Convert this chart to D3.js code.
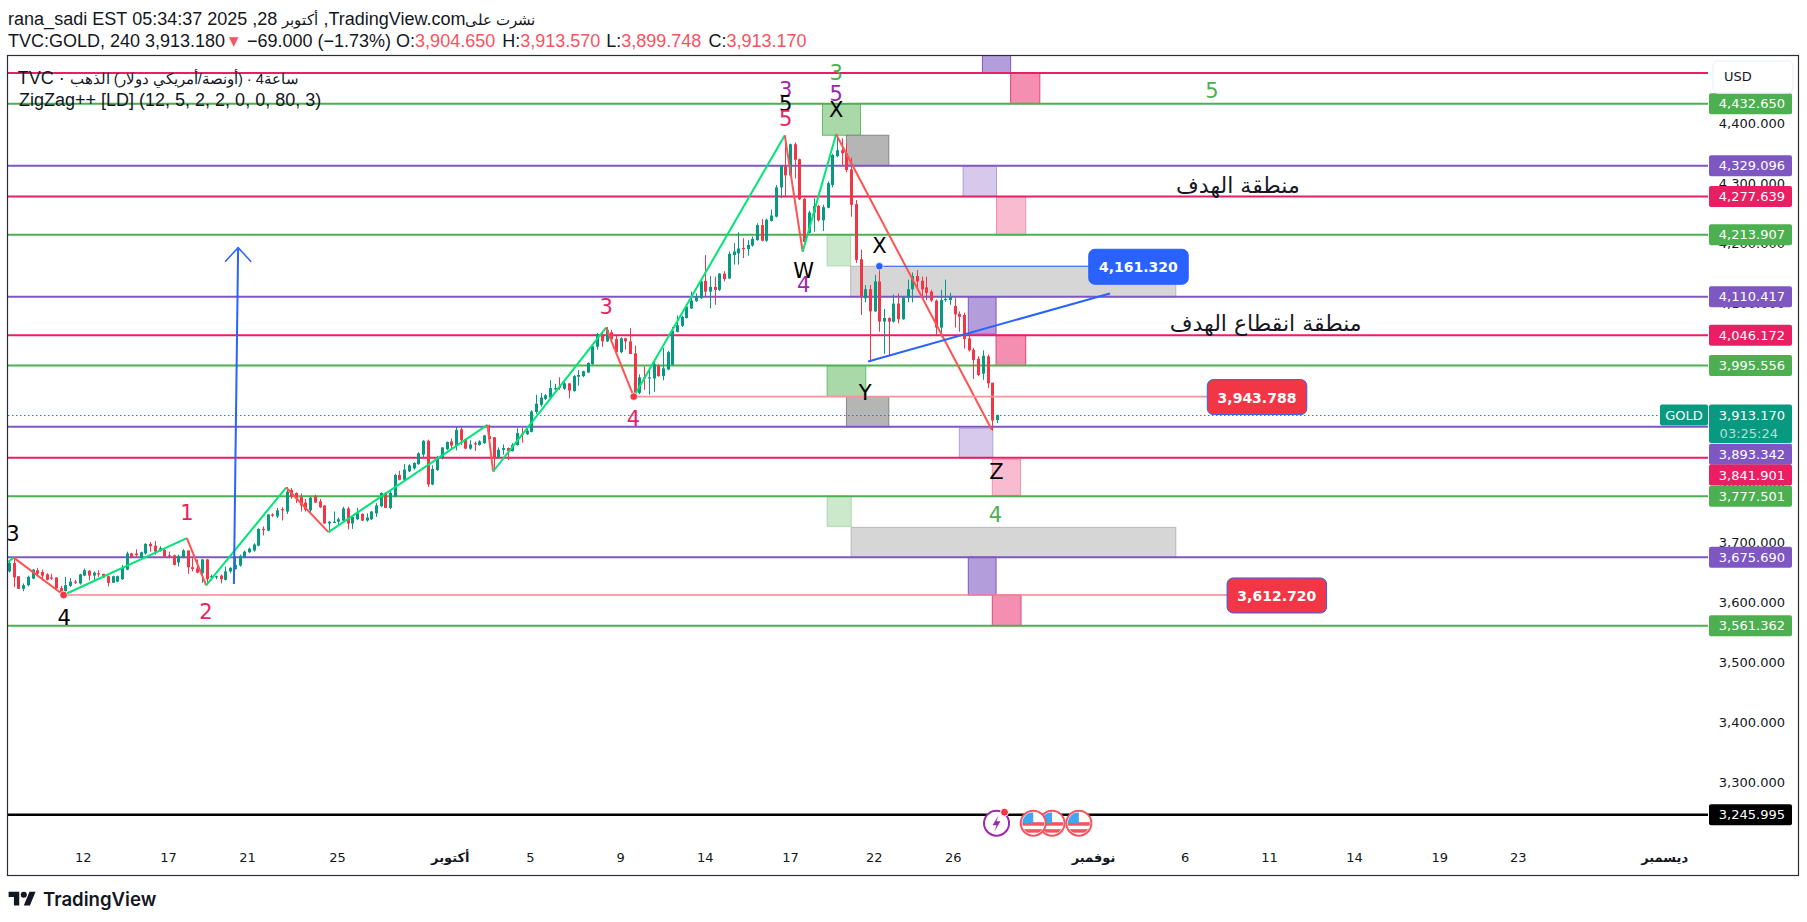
<!DOCTYPE html>
<html>
<head>
<meta charset="utf-8">
<script src="https://cdn.jsdelivr.net/npm/d3@7"></script>
<style>
html, body { margin: 0; padding: 0; background: #fff; }
svg { display: block; }
text { font-family: "Liberation Sans", sans-serif; }
.axis text, .tag { font-family: "DejaVu Sans", sans-serif; font-size: 13px; }
.axis path, .axis line { display: none; }
</style>
</head>
<body>
<svg></svg>
<script>
// candles, left to right, USD
var opens = [3652,3666,3644,3623,3629,3640,3654,3651,3647,3642,3642,3624,3619,3628,3635,3632,3645,3653,3645,3649,3648,3644,3633,3635,3639,3655,3682,3682,3676,3682,3698,3695,3687,3688,3679,3679,3667,3676,3687,3659,3657,3649,3672,3642,3642,3645,3638,3652,3656,3662,3676,3684,3687,3695,3723,3720,3747,3744,3756,3752,3788,3783,3776,3767,3754,3777,3769,3762,3732,3734,3735,3737,3757,3732,3739,3748,3737,3739,3749,3761,3783,3758,3777,3813,3805,3819,3824,3831,3847,3870,3797,3821,3841,3856,3869,3862,3889,3873,3857,3866,3863,3866,3878,3876,3842,3855,3858,3853,3863,3882,3881,3885,3918,3930,3940,3942,3957,3960,3957,3966,3953,3977,3978,3984,3998,4027,4048,4036,4051,4040,4018,4041,4036,4016,3950,3976,3975,3974,3996,3978,3989,3997,4052,4062,4075,4091,4103,4108,4137,4119,4127,4122,4149,4141,4180,4183,4192,4190,4196,4205,4230,4204,4237,4244,4293,4328,4313,4365,4340,4274,4217,4251,4262,4238,4259,4297,4345,4355,4350,4323,4265,4173,4108,4123,4086,4136,4069,4075,4069,4099,4073,4109,4123,4145,4137,4126,4119,4104,4059,4106,4105,4095,4082,4080,4041,4022,4007,3982,4011,3967,3904.65];
var highs = [3669,3674,3644,3632,3645,3656,3658,3655,3649,3648,3642,3628,3643,3641,3638,3648,3657,3654,3652,3654,3648,3645,3645,3645,3663,3685,3683,3689,3685,3699,3701,3703,3694,3691,3685,3680,3680,3689,3687,3674,3672,3673,3673,3647,3645,3647,3660,3659,3677,3680,3687,3692,3699,3724,3727,3748,3749,3758,3759,3793,3791,3784,3782,3773,3777,3780,3773,3763,3736,3752,3742,3760,3760,3744,3758,3749,3749,3753,3766,3784,3784,3788,3815,3820,3831,3831,3834,3851,3871,3872,3829,3845,3859,3869,3874,3893,3893,3874,3871,3869,3871,3880,3897,3876,3859,3864,3859,3866,3891,3892,3894,3921,3947,3950,3948,3971,3965,3976,3972,3966,3980,3988,3987,4001,4030,4050,4050,4060,4055,4045,4043,4042,4058,4029,3981,3994,3991,4006,3998,4025,4020,4060,4079,4079,4095,4119,4116,4139,4180,4145,4144,4150,4153,4186,4200,4218,4208,4205,4211,4233,4240,4241,4256,4297,4330,4378,4366,4368,4341,4275,4254,4275,4264,4264,4303,4349,4380,4375,4366,4343,4272,4189,4130,4130,4147,4162,4090,4076,4114,4116,4111,4139,4151,4155,4144,4144,4122,4106,4122,4139,4117,4108,4086,4084,4050,4025,4011,4021,4014,3967,3913.57];
var lows = [3650,3626,3623,3619,3627,3639,3643,3637,3637,3638,3622,3613,3616,3626,3631,3630,3644,3637,3637,3643,3641,3627,3633,3634,3638,3654,3674,3676,3674,3680,3685,3680,3685,3675,3674,3662,3660,3674,3648,3652,3649,3633,3630,3637,3639,3632,3637,3649,3655,3660,3674,3683,3685,3694,3712,3719,3743,3741,3737,3748,3773,3766,3752,3752,3749,3766,3758,3732,3717,3733,3729,3735,3722,3723,3738,3736,3735,3738,3743,3759,3758,3756,3776,3804,3804,3818,3822,3830,3843,3793,3796,3820,3839,3854,3855,3854,3863,3856,3855,3853,3862,3865,3873,3819,3841,3847,3838,3852,3862,3867,3880,3884,3915,3927,3938,3941,3955,3955,3955,3941,3952,3962,3976,3983,3997,4022,4027,4035,4037,4016,4016,4022,4015,3944,3948,3955,3947,3952,3977,3971,3988,3996,4051,4060,4074,4090,4102,4107,4111,4091,4097,4120,4136,4140,4164,4164,4175,4179,4194,4204,4203,4202,4236,4243,4275,4278,4311,4308,4272,4201,4216,4219,4236,4220,4258,4293,4343,4330,4318,4244,4167,4080,4101,4002,4085,4052,4015,4011,4067,4066,4072,4101,4101,4123,4108,4105,4102,4047,4043,4102,4097,4059,4052,4024,4019,3973,3978,3972,3958,3887,3899.75];
var closes = [3666,3642,3623,3629,3643,3655,3648,3645,3638,3640,3624,3616,3629,3635,3634,3647,3654,3645,3650,3647,3642,3633,3644,3644,3658,3682,3676,3679,3684,3698,3694,3685,3691,3677,3678,3663,3678,3687,3659,3656,3650,3672,3639,3644,3644,3639,3652,3658,3663,3678,3685,3690,3697,3723,3722,3747,3745,3754,3754,3785,3777,3774,3762,3755,3775,3767,3759,3732,3735,3735,3739,3757,3732,3743,3749,3737,3742,3752,3762,3783,3758,3783,3813,3805,3822,3829,3833,3849,3870,3797,3823,3843,3859,3868,3862,3888,3871,3857,3864,3864,3869,3879,3873,3842,3855,3858,3853,3863,3883,3880,3887,3919,3932,3942,3946,3958,3958,3958,3966,3954,3978,3980,3986,4000,4028,4048,4036,4055,4039,4018,4041,4036,4015,3947,3976,3975,3976,3998,3978,3991,4018,4054,4063,4077,4094,4104,4111,4136,4119,4127,4122,4149,4140,4182,4186,4191,4191,4197,4207,4230,4204,4239,4246,4293,4329,4313,4365,4339,4273,4202,4251,4262,4238,4260,4300,4347,4355,4350,4322,4264,4172,4111,4123,4086,4136,4069,4075,4069,4099,4073,4109,4123,4145,4136,4123,4117,4104,4059,4105,4107,4111,4081,4077,4040,4021,4005,3980,4012,3966,3904,3913.17];

// zigzag pivots
var zigIdx = [-0.2,1,11.6,37.8,41.9,58.9,67.9,101.7,102.9,126.9,132.8,164.9,168.7,175.8,208.9];
var zigPrices = [3668,3675,3612.7,3707.7,3628.7,3792,3717.7,3896.7,3818.8,4059,3943.8,4379.9,4185.8,4381.6,3888.4];

// horizontal levels
var levelPrices = [4483.9,4432.65,4329.096,4277.639,4213.907,4110.417,4046.172,3995.556,3893.342,3841.901,3777.501,3675.69,3561.362,3245.995];
var levelKinds = ["pink","green","purple","pink","green","purple","pink","green","purple","pink","green","purple","green","black"];
var levelTagPrices = [null,4432.65,4329.096,4277.639,4213.907,4110.417,4046.172,3995.556,3847.5,3812.8,3777.501,3675.69,3561.362,3245.995];

// boxes drawn on the chart
var zoneStarts = [206.9,212.9,172.9,178,202.8,209.9,173.9,178.9,203.9,209.8,173.9,178,202,209,173.9,179,203.9,209];
var zoneEnds = [212.9,219.1,181,187,209.9,216.1,178.9,248,209.8,216.1,182.1,187,209.1,215,179,248,209.8,215.1];
var zoneTops = [4530,4483.9,4432.65,4380,4329.1,4277.6,4213.9,4161.3,4110.4,4046.2,3995.6,3944,3891,3839,3777.5,3725.6,3675.7,3612.7];
var zoneBottoms = [4483.9,4432.65,4380,4329.1,4277.6,4213.9,4162,4110.4,4048,3995.6,3944,3893.3,3841,3779,3727.4,3675.7,3612.7,3561.4];
var zoneKinds = ["purpleDark","pinkDark","greenDark","grayDark","purpleLight","pinkLight","greenLight","grayLight","purpleDark","pinkDark","greenDark","grayDark","purpleLight","pinkLight","greenLight","grayLight","purpleDark","pinkDark"];

// wave labels
var waveTexts = ["3","4","1","2","3","4","3","5","5","W","4","3","5","X","X","Y","Z","4","5"];
var waveIdx = [0.85,11.75,37.8,41.85,126.95,132.75,165.1,165.1,165.1,168.9,168.9,175.8,175.8,175.8,185,182,209.9,209.65,255.7];
var wavePrices = [3715.8,3575.3,3750,3584.8,4094.7,3906.7,4456.6,4433.3,4408.3,4154.1,4130.2,4485,4450,4423.3,4196.9,3950.1,3818.3,3746.6,4455.5];
var waveKinds = ["black","black","pink","pink","pink","pink","violet","black","pink","black","violet","green","violet","black","black","black","black","green","green"];

// price callouts
var calloutPrices = [4161.32,3943.788,3612.72];
var calloutFrom = [185,132.8,11.6];
var calloutTo = [229.5,254.7,258.9];

// axes
var priceTicks = [4400,4300,4200,4100,3800,3700,3600,3500,3400,3300];
var timeIdx = [15.7,33.8,50.6,69.7,93.7,110.7,129.9,147.9,166,183.8,200.6,230.4,249.9,267.8,285.9,304,320.7,351.8];
var timeLabels = ["12","17","21","25","أكتوبر","5","9","14","17","22","26","نوفمبر","6","11","14","19","23","ديسمبر"];

var noteTexts = ["منطقة الهدف","منطقة انقطاع الهدف"];
var noteIdx = [261.2,267.1];
var notePrices = [4297,4066.8];

var flagIdx = [221.7,217.7,227.4];
var boltIdx = 209.9;

var lastPrice = 3913.17;

var width = 1807, height = 922;
var paneLeft = 8, paneRight = 1708, frameRight = 1798.5, frameTop = 55.5, frameBottom = 875.5;
var tagWidth = 83, tagHeight = 21;

var colors = { green: "#4caf50", purple: "#7e57c2", pink: "#e91e63", black: "#000000", violet: "#9c27b0" };
var zoneStyles = {
  purpleDark: ["#b39ddb", "#7e57c2"], purpleLight: ["#d6c9ec", "#b39ddb"],
  pinkDark: ["#f48fb1", "#e0457c"], pinkLight: ["#f8bbd0", "#f48fb1"],
  greenDark: ["#a9d8a9", "#66bb6a"], greenLight: ["#cde9cd", "#a9d8a9"],
  grayDark: ["#b5b5b5", "#868686"], grayLight: ["#d6d6d6", "#b8b8b8"]
};
var upColor = "#089981", downColor = "#f23645", blue = "#2962ff", arabicHead = 15, arabicLegend = 14.7;

var x = d3.scaleLinear().domain([0, 210]).range([9, 997]);
var y = d3.scaleLinear().domain([3245.995, 4432.65]).range([814.7, 103.7]);
var fmt = d3.format(",.3f");

var svg = d3.select("svg").attr("width", width).attr("height", height);

svg.append("clipPath").attr("id", "pane").append("rect")
  .attr("x", 8).attr("y", frameTop).attr("width", frameRight - 8).attr("height", frameBottom - frameTop);

var pane = svg.append("g").attr("clip-path", "url(#pane)");

// header
svg.append("text").attr("x", 535).attr("y", 25).attr("direction", "rtl")
  .attr("font-size", arabicHead).attr("fill", "#131722").text("نشرت على");
var head1 = svg.append("text").attr("x", 465.5).attr("y", 25).attr("direction", "rtl")
  .attr("font-size", 18).attr("fill", "#131722");
head1.append("tspan").text("TradingView.com, ");
head1.append("tspan").attr("font-size", arabicHead).text("أكتوبر");
head1.append("tspan").text(" 28, 2025 05:34:37 EST\u200f rana_sadi");

var head2 = svg.append("text").attr("x", 8).attr("y", 46.5).attr("font-size", 18).attr("fill", "#131722");
head2.append("tspan").text("TVC:GOLD, 240 3,913.180");
head2.append("tspan").attr("x", 229).attr("fill", "#f7525f").attr("font-size", 19).text("▾");
head2.append("tspan").attr("x", 247).text("−69.000 (−1.73%) O:");
head2.append("tspan").attr("fill", "#f7525f").text("3,904.650");
head2.append("tspan").attr("dx", 2).text(" H:");
head2.append("tspan").attr("fill", "#f7525f").text("3,913.570");
head2.append("tspan").attr("dx", 1).text(" L:");
head2.append("tspan").attr("fill", "#f7525f").text("3,899.748");
head2.append("tspan").attr("dx", 2).text(" C:");
head2.append("tspan").attr("fill", "#f7525f").text("3,913.170");

// boxes
pane.selectAll("rect.zone").data(zoneStarts).enter().append("rect")
  .attr("class", "zone")
  .attr("x", function(d) { return x(d); })
  .attr("y", function(d, i) { return y(zoneTops[i]); })
  .attr("width", function(d, i) { return x(zoneEnds[i]) - x(d); })
  .attr("height", function(d, i) { return y(zoneBottoms[i]) - y(zoneTops[i]); })
  .attr("fill", function(d, i) { return zoneStyles[zoneKinds[i]][0]; })
  .attr("stroke", function(d, i) { return zoneStyles[zoneKinds[i]][1]; })
  .attr("stroke-width", 1);

// levels
pane.selectAll("line.level").data(levelPrices).enter().append("line")
  .attr("class", "level")
  .attr("x1", paneLeft).attr("x2", paneRight)
  .attr("y1", function(d) { return y(d); })
  .attr("y2", function(d) { return y(d); })
  .attr("stroke", function(d, i) { return colors[levelKinds[i]]; })
  .attr("stroke-width", function(d, i) { return levelKinds[i] == "black" ? 2.5 : 2; });

// last price dotted line
pane.append("line")
  .attr("x1", paneLeft).attr("x2", paneRight)
  .attr("y1", Math.round(y(lastPrice)) + 0.5).attr("y2", Math.round(y(lastPrice)) + 0.5)
  .attr("stroke", upColor).attr("stroke-dasharray", "1.5 2.5");

// candles
var bars = pane.selectAll("g.bar").data(opens).enter().append("g").attr("class", "bar");
bars.append("line")
  .attr("x1", function(d, i) { return Math.round(x(i)) + 0.5; })
  .attr("x2", function(d, i) { return Math.round(x(i)) + 0.5; })
  .attr("y1", function(d, i) { return y(highs[i]); })
  .attr("y2", function(d, i) { return y(lows[i]); })
  .attr("stroke", function(d, i) { return closes[i] >= d ? upColor : downColor; });
bars.append("rect")
  .attr("x", function(d, i) { return Math.round(x(i)) - 1; })
  .attr("width", 3)
  .attr("y", function(d, i) { return y(Math.max(d, closes[i])); })
  .attr("height", function(d, i) { return Math.max(1.2, Math.abs(y(d) - y(closes[i]))); })
  .attr("fill", function(d, i) { return closes[i] >= d ? upColor : downColor; });

// zigzag
pane.selectAll("line.zig").data(zigIdx.slice(1)).enter().append("line")
  .attr("class", "zig")
  .attr("x1", function(d, i) { return x(zigIdx[i]); })
  .attr("y1", function(d, i) { return y(zigPrices[i]); })
  .attr("x2", function(d) { return x(d); })
  .attr("y2", function(d, i) { return y(zigPrices[i + 1]); })
  .attr("stroke", function(d, i) { return zigPrices[i + 1] > zigPrices[i] ? "#00e676" : "#ff5252"; })
  .attr("stroke-width", 2);

// blue arrow and trend line
var arrowFrom = [47.8, 3631], arrowTo = [48.7, 4192.4];
var ax = x(arrowTo[0]), ay = y(arrowTo[1]);
pane.append("path")
  .attr("d", d3.line()([[x(arrowFrom[0]), y(arrowFrom[1])], [ax, ay]]))
  .attr("stroke", blue).attr("stroke-width", 2).attr("fill", "none");
pane.append("path")
  .attr("d", d3.line()([[ax - 13, ay + 14], [ax, ay], [ax + 13, ay + 14]]))
  .attr("stroke", blue).attr("stroke-width", 1.5).attr("fill", "none");
var trendFrom = [182.6, 4002.3], trendTo = [234, 4116];
pane.append("line")
  .attr("x1", x(trendFrom[0])).attr("y1", y(trendFrom[1]))
  .attr("x2", x(trendTo[0])).attr("y2", y(trendTo[1]))
  .attr("stroke", blue).attr("stroke-width", 2);

// callouts
var calloutColor = [blue, "#f4949c", "#f4868f"];
pane.selectAll("line.call").data(calloutPrices).enter().append("line")
  .attr("class", "call")
  .attr("x1", function(d, i) { return x(calloutFrom[i]); })
  .attr("x2", function(d, i) { return x(calloutTo[i]); })
  .attr("y1", function(d) { return y(d); })
  .attr("y2", function(d) { return y(d); })
  .attr("stroke", function(d, i) { return calloutColor[i]; })
  .attr("stroke-width", function(d, i) { return i == 0 ? 1.2 : 1.6; });
pane.selectAll("circle.call").data(calloutPrices).enter().append("circle")
  .attr("class", "call")
  .attr("cx", function(d, i) { return x(calloutFrom[i]); })
  .attr("cy", function(d) { return y(d); })
  .attr("r", 3.8)
  .attr("fill", function(d, i) { return i == 0 ? blue : downColor; })
  .attr("stroke", "#fff").attr("stroke-opacity", 0.7);
pane.selectAll("rect.call").data(calloutPrices).enter().append("rect")
  .attr("class", "call")
  .attr("x", function(d, i) { return x(calloutTo[i]); })
  .attr("y", function(d) { return y(d) - 17; })
  .attr("width", 99.5).attr("height", 35).attr("rx", 6)
  .attr("fill", function(d, i) { return i == 0 ? blue : downColor; })
  .attr("stroke", blue);
pane.selectAll("text.call").data(calloutPrices).enter().append("text")
  .attr("class", "call")
  .attr("x", function(d, i) { return x(calloutTo[i]) + 49.7; })
  .attr("y", function(d) { return y(d) + 1; })
  .attr("dy", "0.35em")
  .attr("text-anchor", "middle")
  .attr("fill", "#fff").attr("font-weight", "bold").attr("font-size", 14)
  .style("font-family", "DejaVu Sans")
  .text(function(d) { return fmt(d); });

// wave labels
pane.selectAll("text.wave").data(waveTexts).enter().append("text")
  .attr("class", "wave")
  .attr("x", function(d, i) { return x(waveIdx[i]); })
  .attr("y", function(d, i) { return y(wavePrices[i]); })
  .attr("dy", "0.36em")
  .attr("text-anchor", "middle")
  .attr("font-size", 21)
  .style("font-family", "DejaVu Sans")
  .attr("fill", function(d, i) { return colors[waveKinds[i]]; })
  .text(function(d) { return d; });

// notes
pane.selectAll("text.note").data(noteTexts).enter().append("text")
  .attr("class", "note")
  .attr("x", function(d, i) { return x(noteIdx[i]); })
  .attr("y", function(d, i) { return y(notePrices[i]); })
  .attr("dy", "0.35em")
  .attr("text-anchor", "middle")
  .attr("font-size", 22)
  .style("font-family", "DejaVu Sans")
  .attr("fill", "#131722")
  .text(function(d) { return d; });

// legend lines
var legend1 = svg.append("text").attr("x", 299).attr("y", 84).attr("direction", "rtl")
  .attr("font-size", 18).attr("fill", "#131722");
legend1.append("tspan").attr("font-size", arabicLegend).text("ساعة4 · (أونصة/أمريكي دولار) الذهب");
legend1.append("tspan").text(" · TVC");
svg.append("text").attr("x", 19).attr("y", 106)
  .attr("font-size", 18).attr("fill", "#131722")
  .text("ZigZag++ [LD] (12, 5, 2, 2, 0, 0, 80, 3)");

// price axis
var priceAxis = svg.append("g").attr("class", "axis")
  .attr("transform", "translate(1785,0)")
  .call(d3.axisRight(y).tickValues(priceTicks).tickSize(0).tickPadding(0).tickFormat(fmt));
priceAxis.selectAll("text").attr("text-anchor", "end").attr("fill", "#131722");

// time axis
var timeAxis = svg.append("g").attr("class", "axis")
  .attr("transform", "translate(0,853)")
  .call(d3.axisBottom(x).tickValues(timeIdx).tickSize(0).tickPadding(0).tickFormat(function(d, i) { return timeLabels[i]; }));
timeAxis.selectAll("text").attr("fill", "#131722")
  .attr("font-weight", function(d, i) { return isNaN(+timeLabels[i]) ? "bold" : "normal"; });

// price tags
var tagged = levelPrices.map(function(d, i) { return i; }).filter(function(i) { return levelTagPrices[i] != null; });
svg.selectAll("rect.tag").data(tagged).enter().append("rect")
  .attr("class", "tag")
  .attr("x", 1709).attr("width", tagWidth).attr("height", tagHeight).attr("rx", 2)
  .attr("y", function(d) { return y(levelTagPrices[d]) - tagHeight / 2; })
  .attr("fill", function(d) { return colors[levelKinds[d]]; });
svg.selectAll("text.tag").data(tagged).enter().append("text")
  .attr("class", "tag")
  .attr("x", 1785)
  .attr("y", function(d) { return y(levelTagPrices[d]); })
  .attr("dy", "0.36em")
  .attr("text-anchor", "end").attr("fill", "#fff")
  .text(function(d) { return fmt(levelPrices[d]); });

// last price tag
var lastY = y(lastPrice);
svg.append("rect").attr("x", 1709).attr("y", lastY - 10.5).attr("width", tagWidth).attr("height", 38.5).attr("rx", 2).attr("fill", upColor);
svg.append("text").attr("class", "tag").attr("x", 1785).attr("y", lastY).attr("dy", "0.36em")
  .attr("text-anchor", "end").attr("fill", "#fff").text(fmt(lastPrice));
svg.append("text").attr("class", "tag").attr("x", 1778).attr("y", lastY + 18).attr("dy", "0.36em")
  .attr("text-anchor", "end").attr("fill", "#b2e0d6").text("03:25:24");
svg.append("rect").attr("x", 1660).attr("y", lastY - 10.5).attr("width", 48).attr("height", 21).attr("rx", 2).attr("fill", upColor);
svg.append("text").attr("class", "tag").attr("x", 1684).attr("y", lastY).attr("dy", "0.36em")
  .attr("text-anchor", "middle").attr("fill", "#fff").text("GOLD");

// currency button
svg.append("rect").attr("x", 1713).attr("y", 61).attr("width", 80).attr("height", 32).attr("rx", 5)
  .attr("fill", "#fff").attr("stroke", "#f0f3fa").attr("stroke-width", 1.5);
svg.append("text").attr("x", 1724).attr("y", 76.5).attr("dy", "0.36em").attr("font-size", 13)
  .style("font-family", "DejaVu Sans").attr("fill", "#131722").text("USD");

// events on the time line
var eventY = y(3245.995) + 8.5;
var defs = svg.append("defs");
defs.append("clipPath").attr("id", "flag").append("circle").attr("r", 11);
var stripeRows = [-1, 6, 12];
var flags = svg.selectAll("g.flag").data(flagIdx).enter().append("g")
  .attr("class", "flag")
  .attr("transform", function(d) { return "translate(" + x(d) + "," + eventY + ")"; });
flags.append("circle").attr("r", 12.5).attr("fill", "#fff").attr("stroke", "#f7525f").attr("stroke-width", 2);
var flagBody = flags.append("g").attr("clip-path", "url(#flag)");
flagBody.append("rect").attr("x", -11).attr("y", -11).attr("width", 22).attr("height", 22).attr("fill", "#fff");
stripeRows.forEach(function(s) {
  flagBody.append("rect").attr("x", -11).attr("y", s).attr("width", 22).attr("height", 3.5).attr("fill", "#f7525f");
});
flagBody.append("rect").attr("x", -11).attr("y", -11).attr("width", 11).attr("height", 11).attr("fill", "#42a5f5");
var bolt = svg.append("g").attr("transform", "translate(" + x(boltIdx) + "," + eventY + ")");
bolt.append("circle").attr("r", 12.5).attr("fill", "#fff").attr("stroke", "#9c27b0").attr("stroke-width", 2);
bolt.append("path").attr("d", "M2 -8 L-4 2 L0 2 L-2 8 L4 -2 L0 -2 Z").attr("fill", "#9c27b0");
bolt.append("circle").attr("cx", 8).attr("cy", -11).attr("r", 4).attr("fill", "#f23645").attr("stroke", "#fff");

// frame
svg.append("rect")
  .attr("x", 7.5).attr("y", frameTop)
  .attr("width", frameRight - 7.5).attr("height", frameBottom - frameTop)
  .attr("fill", "none").attr("stroke", "#2a2e39").attr("stroke-width", 1.2);

// logo
var logo = svg.append("g").attr("transform", "translate(8.6,888.7) scale(0.76)").attr("fill", "#131722");
logo.append("path").attr("d", "M14 22H7V11H0V4h14v18zM28 22h-8l7.5-18h8L28 22z");
logo.append("circle").attr("cx", 20).attr("cy", 8).attr("r", 4);
svg.append("text").attr("x", 43).attr("y", 905.5).attr("font-size", 18.6).attr("font-weight", 600)
  .style("font-family", "Inter").attr("fill", "#131722").text("TradingView");
</script>
</body>
</html>
